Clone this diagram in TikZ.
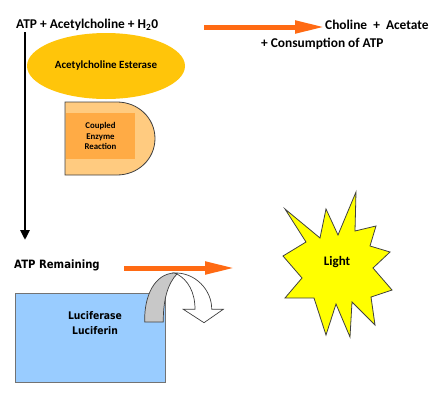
\documentclass[tikz,border=0pt]{standalone}
\usepackage{fontspec}
\setmainfont{Carlito}
\newfontfamily\verdfont[FakeStretch=0.88]{DejaVu Sans}
\usetikzlibrary{arrows.meta,shapes.geometric}
\definecolor{orangeA}{HTML}{FF6A13}
\definecolor{goldA}{HTML}{FFC50A}
\definecolor{peachA}{HTML}{FFCB80}
\definecolor{peachB}{HTML}{FFAB45}
\definecolor{blueA}{HTML}{99CCFF}
\definecolor{starY}{HTML}{FFFF00}
\definecolor{grayband}{HTML}{C8C8C8}
\tikzset{
  lbl/.style={inner sep=0pt, font=\bfseries\fontsize{13.4}{15}\selectfont},
  orangearrow/.style={draw=orangeA, line width=5pt, -{Triangle[length=30pt,width=12pt]}},
  blackarrow/.style={draw=black, line width=2.5pt, -{Triangle[length=10pt,width=9pt]}},
  verd/.style={inner sep=0pt, font=\verdfont\bfseries},
  thinoutline/.style={draw=black!75, line width=0.8pt}
}
\begin{document}
\begin{tikzpicture}[x=1pt,y=-1pt]
\useasboundingbox (0,0) rectangle (440,400);
% top reaction
\node[lbl, anchor=west] (atp) at (16,25) {ATP + Acetylcholine + H\textsubscript{2}0};
\node[lbl, anchor=west] (choline) at (325,25) {Choline\ \ +\ \ Acetate};
\node[lbl, anchor=west] (consum) at (261,44) {+ Consumption of ATP};
\coordinate (a1) at (204,27);
\draw[orangearrow] (a1) -- (a1 -| choline.west);
% esterase ellipse
\node[ellipse, fill=goldA, minimum width=158pt, minimum height=66pt, inner sep=0pt,
      font=\bfseries\fontsize{11}{13}\selectfont] (est) at (106,66) {Acetylcholine Esterase};
% coupled enzyme D shape
\path[thinoutline, fill=peachA] (65,102) -- (117,102)
   .. controls (138,102) and (155,118) .. (155,138.5)
   .. controls (155,159) and (138,175) .. (117,175) -- (65,175) -- cycle;
\node[fill=peachB, minimum width=69pt, minimum height=46.5pt, inner sep=0pt,
      align=center, font=\bfseries\fontsize{8.8}{10.8}\selectfont] (coupled) at (100.5,136)
      {Coupled\\Enzyme\\Reaction};
% black arrow
\coordinate (b0) at (25,32);
\coordinate (b1) at (25,240);
\draw[blackarrow] (b0) -- (b1);
% ATP remaining
\node[verd, anchor=west, font=\verdfont\bfseries\fontsize{11.5}{13}\selectfont] (rem) at (14,265) {ATP Remaining};
\coordinate (r0) at (124,268);
\coordinate (r1) at (235,268);
\draw[orangearrow] (r0) -- (r1);
% luciferase box
\node[draw=black!55, line width=0.8pt, fill=blueA, minimum width=150pt, minimum height=89pt,
      inner sep=0pt] (lucbox) at (90,337.5) {};
\node[verd, align=center, font=\verdfont\bfseries\fontsize{10.5}{15}\selectfont] (luctext) at (95,323.5)
      {Luciferase\\Luciferin};
% curved arrow
\path[draw=black!75, line width=0.7pt, fill=white]
  (174,273) .. controls (195,272) and (212,290) .. (211.7,309.3)
  -- (223.3,309.3) -- (204,322.7) -- (183.3,309.3) -- (195,309.3)
  .. controls (195,292) and (188,280) .. (177,274) -- cycle;
\path[draw=black!75, line width=0.7pt, fill=grayband]
  (144.7,322) .. controls (144,295) and (155,274) .. (174,273)
  -- (177,274) .. controls (168,283) and (163,300) .. (163.3,322) -- cycle;
% star
\path[thinoutline, fill=starY]
  (356,192) -- (355,231) -- (376,226) -- (370,246) -- (390,252) -- (373,268)
  -- (392,290) -- (371,297) -- (375,325) -- (352,302) -- (350,337) -- (336,304)
  -- (326,335) -- (314,298) -- (285,298) -- (302,278) -- (283,256) -- (306,242)
  -- (285,209) -- (320,238) -- (326,209) -- (338,235) -- cycle;
\node[inner sep=0pt, font=\bfseries\fontsize{13}{15}\selectfont] (light) at (337,262) {Light};
\end{tikzpicture}
\end{document}
